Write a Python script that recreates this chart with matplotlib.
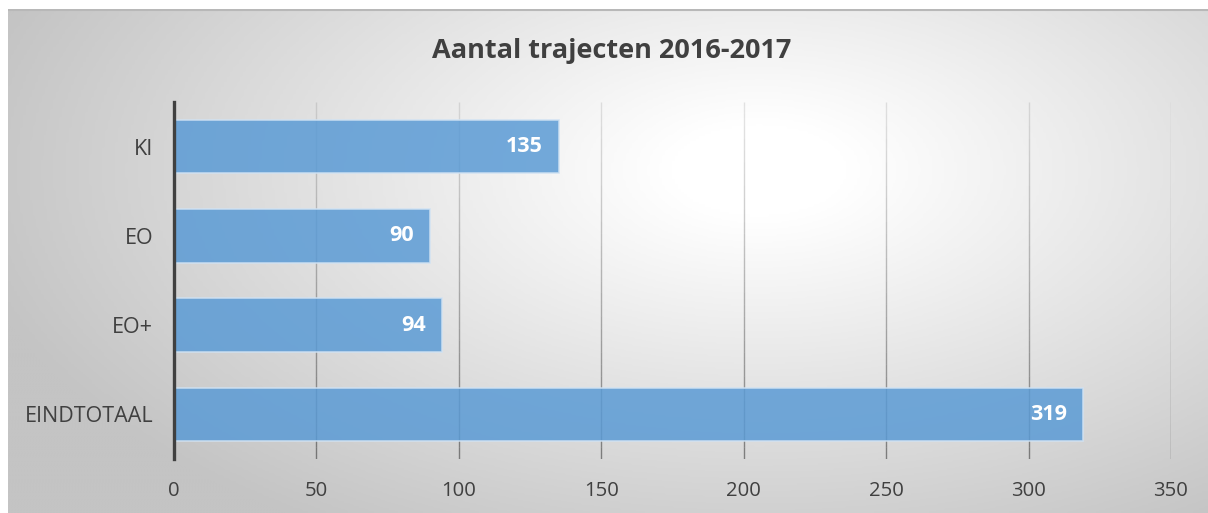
import matplotlib.pyplot as plt
import matplotlib.colors as mcolors
from matplotlib.collections import LineCollection
import numpy as np

categories = ["KI", "EO", "EO+", "EINDTOTAAL"]
values = [135, 90, 94, 319]
xticks = [0, 50, 100, 150, 200, 250, 300, 350]
title = "Aantal trajecten 2016-2017"

W, H = 1208, 513
FONT = ["Open Sans", "DejaVu Sans"]

fig = plt.figure(figsize=(W / 100, H / 100), dpi=100, facecolor="white")

# radial grey background of the chart area
bg = fig.add_axes([8 / W, 0, 1 - 8 / W, 1 - 9 / H], zorder=0)
bg.set_axis_off()
xs = np.linspace(8, W, 400)
ys = np.linspace(9, H, 200)
X, Y = np.meshgrid(xs, ys)
d = np.sqrt(((X - 760) / 720) ** 2 + ((Y - 170) / 380) ** 2)
t = np.clip((d - 0.12) / 1.0, 0, 1)
cmap = mcolors.LinearSegmentedColormap.from_list("bg", ["#ffffff", "#c4c4c4"])
bg.imshow(t, cmap=cmap, vmin=0, vmax=1, aspect="auto", extent=[0, 1, 0, 1], origin="upper")
bg.set_xlim(0, 1)
bg.set_ylim(0, 1)
bg.plot([0, 1], [0.998, 0.998], color="#b8b8b8", lw=1.5, transform=bg.transAxes)

ax = fig.add_axes([174 / W, 1 - 459 / H, (1171 - 174) / W, (459 - 102) / H], zorder=1)
ax.patch.set_alpha(0)
ax.set_xlim(0, 350)
ax.set_ylim(len(categories) - 0.5, -0.5)

# gridlines, fading in from top to bottom
for xt in xticks[1:]:
    n = 30
    yy = np.linspace(-0.5, len(categories) - 0.5, n + 1)
    segs = [[(xt, yy[i]), (xt, yy[i + 1])] for i in range(n)]
    cols = [(0, 0, 0, 0.1 + 0.32 * i / (n - 1)) for i in range(n)]
    ax.add_collection(LineCollection(segs, colors=cols, linewidths=1.0, zorder=1))

ypos = np.arange(len(categories))
ax.barh(ypos, values, height=0.6, color="#5b9bd5", alpha=0.85,
        edgecolor="#d0e2f3", linewidth=1.2, zorder=2)

for y, v in zip(ypos, values):
    ax.text(v - 350 * 16 / 997, y, str(v), ha="right", va="center", color="white",
            fontsize=15.5, fontweight="bold", family=FONT, zorder=3)

for s in ["top", "right", "bottom"]:
    ax.spines[s].set_visible(False)
ax.spines["left"].set_color("#404040")
ax.spines["left"].set_linewidth(2.4)
ax.spines["left"].set_zorder(4)

ax.set_yticks(ypos)
ax.set_yticklabels(categories, family=FONT, fontsize=15.5, color="#404040")
ax.set_xticks(xticks)
ax.set_xticklabels([str(x) for x in xticks], family=FONT, fontsize=14.6, color="#404040")
ax.tick_params(axis="both", length=0)
ax.tick_params(axis="y", pad=15)
ax.tick_params(axis="x", pad=16)

fig.text(612 / W, 1 - 51 / H, title, ha="center", va="center", fontsize=19.5,
         fontweight="bold", color="#404040", family=FONT)

fig.savefig("out.png", dpi=100, facecolor="white")
